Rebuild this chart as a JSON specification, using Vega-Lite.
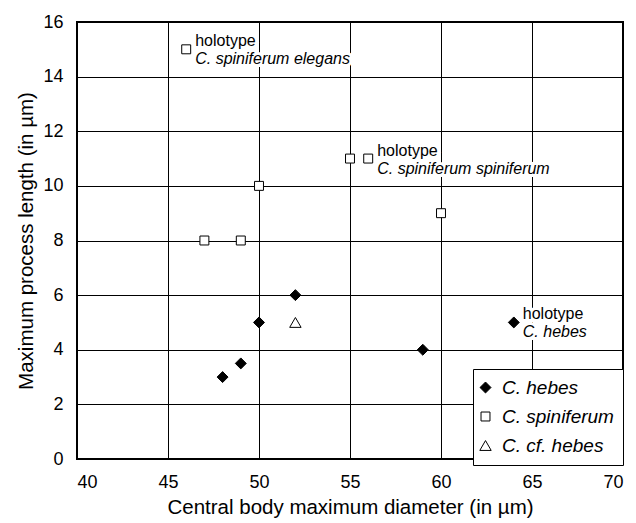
{
  "$schema": "https://vega.github.io/schema/vega-lite/v6.json",
  "width": 546,
  "height": 437,
  "autosize": "none",
  "padding": {"left": 77, "top": 22, "right": 13, "bottom": 64},
  "background": "white",
  "config": {
    "font": "Liberation Sans",
    "view": {"stroke": "black", "strokeWidth": 2},
    "axis": {
      "grid": true,
      "gridColor": "black",
      "gridOpacity": 1,
      "gridWidth": 1,
      "domain": false,
      "ticks": false,
      "labelFont": "Liberation Sans",
      "labelFontSize": 18,
      "labelColor": "black",
      "titleFont": "Liberation Sans",
      "titleFontSize": 20.5,
      "titleFontWeight": "normal",
      "titleColor": "black"
    }
  },
  "datasets": {
    "pts": [
      {"d": 48, "p": 3, "sp": "C. hebes"},
      {"d": 49, "p": 3.5, "sp": "C. hebes"},
      {"d": 50, "p": 5, "sp": "C. hebes"},
      {"d": 52, "p": 6, "sp": "C. hebes"},
      {"d": 59, "p": 4, "sp": "C. hebes"},
      {"d": 64, "p": 5, "sp": "C. hebes"},
      {"d": 46, "p": 15, "sp": "C. spiniferum"},
      {"d": 47, "p": 8, "sp": "C. spiniferum"},
      {"d": 49, "p": 8, "sp": "C. spiniferum"},
      {"d": 50, "p": 10, "sp": "C. spiniferum"},
      {"d": 55, "p": 11, "sp": "C. spiniferum"},
      {"d": 56, "p": 11, "sp": "C. spiniferum"},
      {"d": 60, "p": 9, "sp": "C. spiniferum"},
      {"d": 52, "p": 5, "sp": "C. cf. hebes"}
    ],
    "notes": [
      {"d": 46, "p": 15, "name": "C. spiniferum elegans"},
      {"d": 56, "p": 11, "name": "C. spiniferum spiniferum"},
      {"d": 64, "p": 5, "name": "C. hebes"}
    ]
  },
  "layer": [
    {
      "data": {"name": "pts"},
      "mark": {"type": "point", "filled": false, "stroke": "black", "strokeWidth": 1, "opacity": 1},
      "encoding": {
        "x": {"field": "d", "type": "quantitative", "scale": {"domain": [40, 70], "nice": false, "zero": false}, "axis": {"values": [40, 45, 50, 55, 60, 65, 70], "labelPadding": 14, "titlePadding": 6, "title": "Central body maximum diameter (in µm)"}},
        "y": {"field": "p", "type": "quantitative", "scale": {"domain": [0, 16], "nice": false}, "axis": {"values": [0, 2, 4, 6, 8, 10, 12, 14, 16], "labelPadding": 14, "titlePadding": 6, "title": "Maximum process length (in µm)"}},
        "shape": {"field": "sp", "type": "nominal", "scale": {"domain": ["C. hebes", "C. spiniferum", "C. cf. hebes"], "range": ["diamond", "square", "triangle-up"]},
          "legend": {
            "title": null,
            "orient": "none",
            "legendX": 396,
            "legendY": 347,
            "fillColor": "white",
            "strokeColor": "black",
            "padding": 9,
            "rowPadding": 9,
            "labelFontSize": 19,
            "labelFontStyle": "italic",
            "labelFont": "Liberation Sans",
            "labelColor": "black",
            "labelOffset": 7,
            "symbolOffset": -6,
            "symbolStrokeColor": "black",
            "symbolStrokeWidth": 1,
            "symbolOpacity": 1,
            "labelLimit": 200,
            "encode": {"legend": {"update": {"strokeWidth": {"value": 2}}}}
          }
        },
        "fill": {"field": "sp", "type": "nominal", "scale": {"domain": ["C. hebes", "C. spiniferum", "C. cf. hebes"], "range": ["black", "white", "white"]}},
        "size": {"field": "sp", "type": "nominal", "scale": {"type": "ordinal", "domain": ["C. hebes", "C. spiniferum", "C. cf. hebes"], "range": [120, 80, 130]}}
      }
    },
    {
      "data": {"name": "notes"},
      "mark": {"type": "text", "align": "left", "baseline": "middle", "dx": 9, "dy": -8, "fontSize": 16, "font": "Liberation Sans", "color": "white", "stroke": "white", "strokeWidth": 6},
      "encoding": {
        "x": {"field": "d", "type": "quantitative"},
        "y": {"field": "p", "type": "quantitative"},
        "text": {"value": "holotype"}
      }
    },
    {
      "data": {"name": "notes"},
      "mark": {"type": "text", "align": "left", "baseline": "middle", "dx": 9, "dy": 10, "fontSize": 16, "fontStyle": "italic", "font": "Liberation Sans", "color": "white", "stroke": "white", "strokeWidth": 6},
      "encoding": {
        "x": {"field": "d", "type": "quantitative"},
        "y": {"field": "p", "type": "quantitative"},
        "text": {"field": "name", "type": "nominal"}
      }
    },
    {
      "data": {"name": "notes"},
      "mark": {"type": "text", "align": "left", "baseline": "middle", "dx": 9, "dy": -8, "fontSize": 16, "font": "Liberation Sans", "color": "black"},
      "encoding": {
        "x": {"field": "d", "type": "quantitative"},
        "y": {"field": "p", "type": "quantitative"},
        "text": {"value": "holotype"}
      }
    },
    {
      "data": {"name": "notes"},
      "mark": {"type": "text", "align": "left", "baseline": "middle", "dx": 9, "dy": 10, "fontSize": 16, "fontStyle": "italic", "font": "Liberation Sans", "color": "black"},
      "encoding": {
        "x": {"field": "d", "type": "quantitative"},
        "y": {"field": "p", "type": "quantitative"},
        "text": {"field": "name", "type": "nominal"}
      }
    }
  ]
}
